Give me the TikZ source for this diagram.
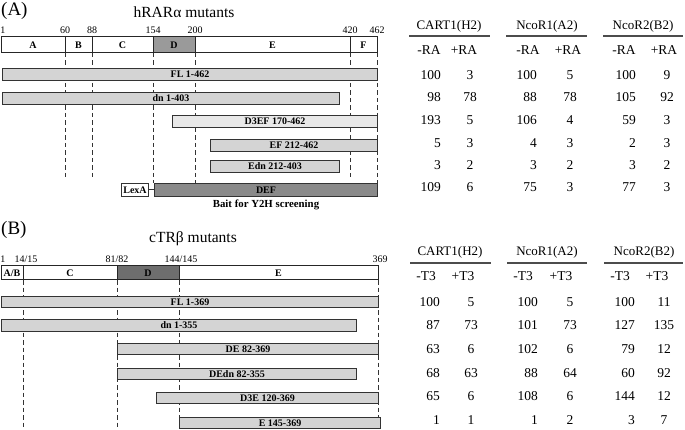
\documentclass[tikz,border=0pt]{standalone}
\usepackage{fontspec}
\setmainfont{Liberation Serif}
\usetikzlibrary{positioning}

\definecolor{barfill}{HTML}{D4D4D4}
\definecolor{barlight}{HTML}{E8E8E8}
\definecolor{hingeA}{HTML}{9A9A9A}
\definecolor{baitgray}{HTML}{8A8A8A}
\definecolor{hingeB}{HTML}{6E6E6E}

\begin{document}
\begin{tikzpicture}[
    x=1pt, y=-1pt,
    % --- STYLES ---
    dombox/.style={
        rectangle, draw=black!85, fill=white,
        line width=1pt, inner sep=0pt, outer sep=0pt,
        minimum height=16pt,
        font=\fontsize{10}{12}\selectfont\bfseries
    },
    mutant/.style={
        rectangle, draw=black!80, fill=barfill,
        line width=1pt, inner sep=0pt,
        minimum height=12pt, anchor=north west,
        font=\fontsize{10}{11}\selectfont\bfseries
    },
    posnum/.style={font=\fontsize{10}{12}\selectfont, inner sep=0pt},
    guide/.style={line width=0.9pt, black!80, dash pattern=on 4.5pt off 3pt},
    panel/.style={font=\fontsize{19}{22}\selectfont, anchor=west, inner sep=0pt},
    heading/.style={font=\fontsize{15.5}{18}\selectfont, inner sep=0pt},
    colhead/.style={font=\fontsize{13}{15}\selectfont, inner sep=0pt},
    rule/.style={line width=1.4pt, black!70},
    val/.style={font=\fontsize{13.5}{15}\selectfont, inner sep=0pt}
]
\useasboundingbox (0,0) rectangle (685,430);

% ===== 1. PANEL A : hRARalpha =====
\node[panel] (labA) at (1,11) {(A)};
\node[heading] (titA) at (184,12) {hRARα mutants};

% domain bar
\node[dombox, minimum width=64pt, anchor=north west] (rA) at (1,37) {A};
\node[dombox, minimum width=27pt, right=0pt of rA] (rB) {B};
\node[dombox, minimum width=61pt, right=0pt of rB] (rC) {C};
\node[dombox, minimum width=42pt, right=0pt of rC, fill=hingeA] (rD) {D};
\node[dombox, minimum width=155pt, right=0pt of rD] (rE) {E};
\node[dombox, minimum width=27pt, right=0pt of rE] (rF) {F};

% boundary numbers
\node[posnum, above=3pt of rA.north west, xshift=2pt] (nA1) {1};
\node[posnum, above=3pt of rB.north west] (nA60) {60};
\node[posnum, above=3pt of rC.north west] (nA88) {88};
\node[posnum, above=3pt of rD.north west] (nA154) {154};
\node[posnum, above=3pt of rE.north west] (nA200) {200};
\node[posnum, above=3pt of rF.north west] (nA420) {420};
\node[posnum, above=3pt of rF.north east] (nA462) {462};

% guide lines
\draw[guide] (rB.south west) -- ++(0,125);
\draw[guide] (rC.south west) -- ++(0,125);
\draw[guide] (rF.south west) -- ++(0,125);
\draw[guide] (rD.south west) -- ++(0,130);
\draw[guide] (rE.south west) -- ++(0,130);
\draw[guide] (rF.south east) -- ++(0,130);

% mutants
\node[mutant, minimum width=375pt] (flA) at (2,68) {FL 1-462};
\node[mutant, minimum width=337pt] (dnA) at (2,92) {dn 1-403};
\node[mutant, minimum width=205pt, fill=barlight] (d3efA) at (172,115) {D3EF 170-462};
\node[mutant, minimum width=167pt] (efA) at (210,139) {EF 212-462};
\node[mutant, minimum width=129pt] (ednA) at (210,160) {Edn 212-403};

% bait
\node[mutant, minimum width=27pt, minimum height=13pt, fill=white] (lexa) at (121,183) {LexA};
\node[mutant, minimum width=223pt, minimum height=13pt, fill=baitgray] (def) at (154,183) {DEF};
\draw[line width=1pt, black!80] (lexa) -- (def);
\node[below=3pt of def, inner sep=0pt, font=\fontsize{10.8}{12}\selectfont\bfseries] (bait) {Bait for Y2H screening};

% ===== 2. TABLE A =====
\node[colhead] (hA1) at (449,26) {CART1(H2)};
\node[colhead] (hA2) at (547,26) {NcoR1(A2)};
\node[colhead] (hA3) at (643,26) {NcoR2(B2)};
\draw[rule] (409,36) -- (490,36);
\draw[rule] (506,36) -- (587,36);
\draw[rule] (603,36) -- (683,36);

\foreach \c/\xm/\xp in {1/429/464, 2/528/568, 3/624/664}{
  \node[val] (sA\c m) at (\xm,50) {-RA};
  \node[val] (sA\c p) at (\xp,50) {+RA};
}

\foreach \r/\y/\a/\b/\c/\d/\e/\f in {
    1/77/100/3/100/5/100/9,
    2/99/98/78/88/78/105/92,
    3/122/193/5/106/4/59/3,
    4/145/5/3/4/3/2/3,
    5/167/3/2/3/2/3/2,
    6/189/109/6/75/3/77/3}{
  \node[val, anchor=mid east] (vA\r-1) at (441,\y) {\a};
  \node[val, anchor=mid] (vA\r-2) at (470,\y) {\b};
  \node[val, anchor=mid east] (vA\r-3) at (537,\y) {\c};
  \node[val, anchor=mid] (vA\r-4) at (570,\y) {\d};
  \node[val, anchor=mid east] (vA\r-5) at (636,\y) {\e};
  \node[val, anchor=mid] (vA\r-6) at (667,\y) {\f};
}

% ===== 3. PANEL B : cTRbeta =====
\node[panel] (labB) at (1,230) {(B)};
\node[heading] (titB) at (193,239) {cTRβ mutants};

% domain bar
\node[dombox, minimum width=22pt, minimum height=14pt, anchor=north west] (tAB) at (1,266) {A/B};
\node[dombox, minimum width=94pt, minimum height=14pt, right=0pt of tAB] (tC) {C};
\node[dombox, minimum width=62pt, minimum height=14pt, right=0pt of tC, fill=hingeB] (tD) {D};
\node[dombox, minimum width=199pt, minimum height=14pt, right=0pt of tD] (tE) {E};

% boundary numbers
\node[posnum, above=3pt of tAB.north west, xshift=2pt] (nB1) {1};
\node[posnum, above=3pt of tC.north west, xshift=3pt] (nB14) {14/15};
\node[posnum, above=3pt of tD.north west] (nB81) {81/82};
\node[posnum, above=3pt of tE.north west, xshift=2pt] (nB144) {144/145};
\node[posnum, above=3pt of tE.north east, xshift=2pt] (nB369) {369};

% guide lines
\draw[guide] (tC.south west) -- ++(0,149);
\draw[guide] (tD.south west) -- ++(0,149);
\draw[guide] (tE.south west) -- ++(0,137);
\draw[guide] (tE.south east) -- ++(0,137);

% mutants
\node[mutant, minimum width=377pt, minimum height=11pt] (flB) at (1,296) {FL 1-369};
\node[mutant, minimum width=355pt] (dnB) at (1,319) {dn 1-355};
\node[mutant, minimum width=261pt, minimum height=11pt] (deB) at (117,343) {DE 82-369};
\node[mutant, minimum width=239pt, minimum height=11pt] (dednB) at (117,368) {DEdn 82-355};
\node[mutant, minimum width=222pt, minimum height=11pt] (d3eB) at (156,392) {D3E 120-369};
\node[mutant, minimum width=201pt, minimum height=11pt] (eB) at (179,417) {E 145-369};

% ===== 4. TABLE B =====
\node[colhead] (hB1) at (450,252) {CART1(H2)};
\node[colhead] (hB2) at (547,252) {NcoR1(A2)};
\node[colhead] (hB3) at (644,252) {NcoR2(B2)};
\draw[rule] (410,263) -- (491,263);
\draw[rule] (507,263) -- (587,263);
\draw[rule] (604,263) -- (683,263);

\foreach \c/\xm/\xp in {1/426/463, 2/523/561, 3/620/657}{
  \node[val] (sB\c m) at (\xm,276) {-T3};
  \node[val] (sB\c p) at (\xp,276) {+T3};
}

\foreach \r/\y/\a/\b/\c/\d/\e/\f in {
    1/304/100/5/100/5/100/11,
    2/327/87/73/101/73/127/135,
    3/351/63/6/102/6/79/12,
    4/375/68/63/88/64/60/92,
    5/398/65/6/108/6/144/12,
    6/422/1/1/1/2/3/7}{
  \node[val, anchor=mid east] (vB\r-1) at (440,\y) {\a};
  \node[val, anchor=mid] (vB\r-2) at (471,\y) {\b};
  \node[val, anchor=mid east] (vB\r-3) at (538,\y) {\c};
  \node[val, anchor=mid] (vB\r-4) at (570,\y) {\d};
  \node[val, anchor=mid east] (vB\r-5) at (635,\y) {\e};
  \node[val, anchor=mid] (vB\r-6) at (664,\y) {\f};
}

\end{tikzpicture}
\end{document}
